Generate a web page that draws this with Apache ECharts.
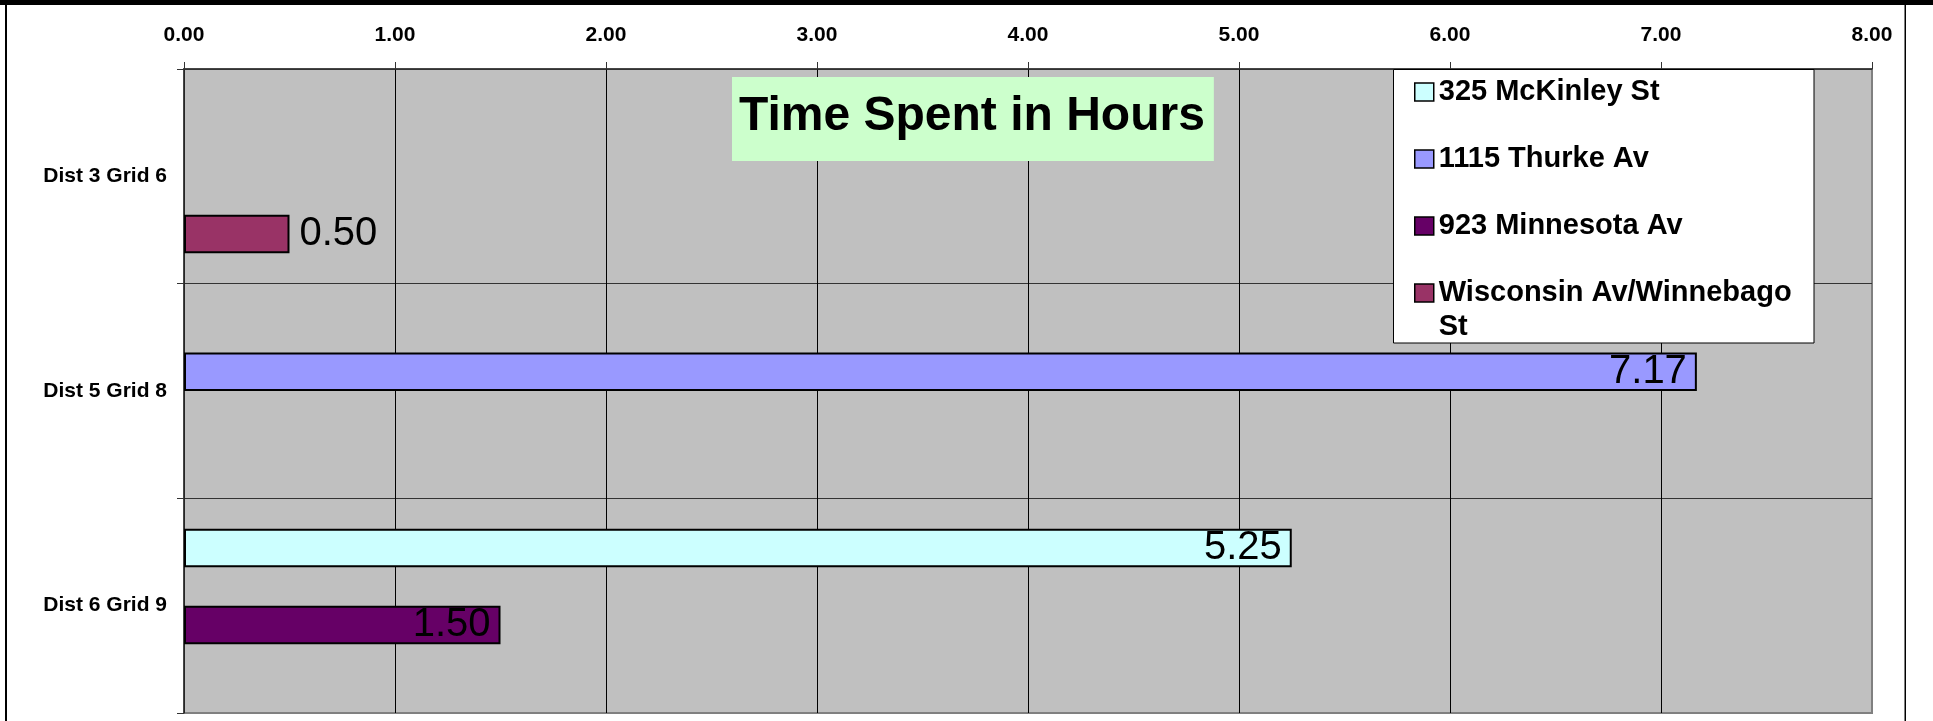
<!DOCTYPE html>
<html><head><meta charset="utf-8">
<script src="https://cdn.jsdelivr.net/npm/echarts@6/dist/echarts.min.js"></script>
<style>html,body{margin:0;padding:0;background:#fff}#c{width:1933px;height:721px}</style>
</head><body><div id="c"></div>
<script>
// ---- data ----
const categories = ['Dist 3 Grid 6', 'Dist 5 Grid 8', 'Dist 6 Grid 9'];
const seriesNames = ['325 McKinley St', '1115 Thurke Av', '923 Minnesota Av', 'Wisconsin Av/Winnebago St'];
const mckinley  = [null, null, 5.25];
const thurke    = [null, 7.17, null];
const minnesota = [null, null, 1.50];
const wisconsin = [0.50, null, null];
const axisMin = 0, axisMax = 8, axisStep = 1;
const titleText = 'Time Spent in Hours';

// ---- style ----
const colors = ['#CCFFFF', '#9999FF', '#660066', '#993366'];
const FONT = '"Liberation Sans", Arial, sans-serif';

function bar(name, data, color, pos) {
  return {
    type: 'bar', name: name, data: data,
    barGap: '0%', barCategoryGap: '28.3%',
    itemStyle: { color: color, borderColor: '#000', borderWidth: 2 },
    label: {
      show: true, position: pos, distance: 10,
      formatter: p => (p.value == null ? '' : Number(p.value).toFixed(2)),
      color: '#000', fontFamily: FONT, fontSize: 40, fontWeight: 'normal'
    },
    emphasis: { disabled: true }, animation: false
  };
}

const chart = echarts.init(document.getElementById('c'), null, { renderer: 'canvas' });
chart.setOption({
  animation: false,
  backgroundColor: '#fff',
  title: {
    text: titleText, left: 732, top: 77,
    padding: [16, 9, 20, 7],
    backgroundColor: '#CCFFCC',
    textStyle: { fontFamily: FONT, fontSize: 48, fontWeight: 'bold', color: '#000', lineHeight: 48 }
  },
  legend: {
    orient: 'vertical', left: 1414, top: 75, padding: 0,
    itemGap: 33, itemWidth: 19, itemHeight: 18, align: 'left',
    icon: 'rect', selectedMode: false,
    itemStyle: { borderColor: '#000', borderWidth: 1.5 },
    textStyle: { fontFamily: FONT, fontSize: 29, fontWeight: 'bold', color: '#000',
                 lineHeight: 34, height: 34, width: 365, overflow: 'break',
                 rich: { x: {} } },
    data: seriesNames.map(n => ({ name: n })),
    z: 5
  },
  grid: {
    left: 184, top: 69, width: 1688, height: 644,
    show: true, backgroundColor: '#C0C0C0', borderWidth: 2, borderColor: '#808080',
    containLabel: false, outerBoundsMode: 'none'
  },
  xAxis: {
    type: 'value', position: 'top', min: axisMin, max: axisMax, interval: axisStep,
    axisLine: { show: true, lineStyle: { color: '#333', width: 1.5 } },
    axisTick: { show: true, length: 7, lineStyle: { color: '#333', width: 1 } },
    axisLabel: {
      margin: 23, color: '#000', fontFamily: FONT, fontSize: 21, fontWeight: 'bold',
      formatter: v => v.toFixed(2)
    },
    splitLine: { show: true, showMaxLine: false, lineStyle: { color: '#000', width: 1 } }
  },
  yAxis: {
    type: 'category', data: categories, inverse: true,
    axisLine: { show: true, onZero: false, lineStyle: { color: '#333', width: 1.5 } },
    axisTick: { show: true, length: 7, lineStyle: { color: '#333', width: 1 } },
    axisLabel: { margin: 17, color: '#000', fontFamily: FONT, fontSize: 21, fontWeight: 'bold' },
    splitLine: { show: true, showMaxLine: false, lineStyle: { color: '#333', width: 1 } }
  },
  graphic: [
    { type: 'rect', z: 3, shape: { x: 1393.5, y: 69.5, width: 420.5, height: 273.5 },
      style: { fill: '#fff', stroke: '#000', lineWidth: 1 } },
    { type: 'rect', z: 10, shape: { x: 0, y: 0, width: 1933, height: 5 }, style: { fill: '#000' } },
    { type: 'rect', z: 10, shape: { x: 5, y: 0, width: 2, height: 721 }, style: { fill: '#000' } },
    { type: 'rect', z: 10, shape: { x: 1904.5, y: 0, width: 1.5, height: 721 }, style: { fill: '#000' } }
  ],
  series: [
    bar(seriesNames[0], mckinley, colors[0], 'insideRight'),
    bar(seriesNames[1], thurke, colors[1], 'insideRight'),
    bar(seriesNames[2], minnesota, colors[2], 'insideRight'),
    bar(seriesNames[3], wisconsin, colors[3], 'right')
  ]
});
</script>
</body></html>
